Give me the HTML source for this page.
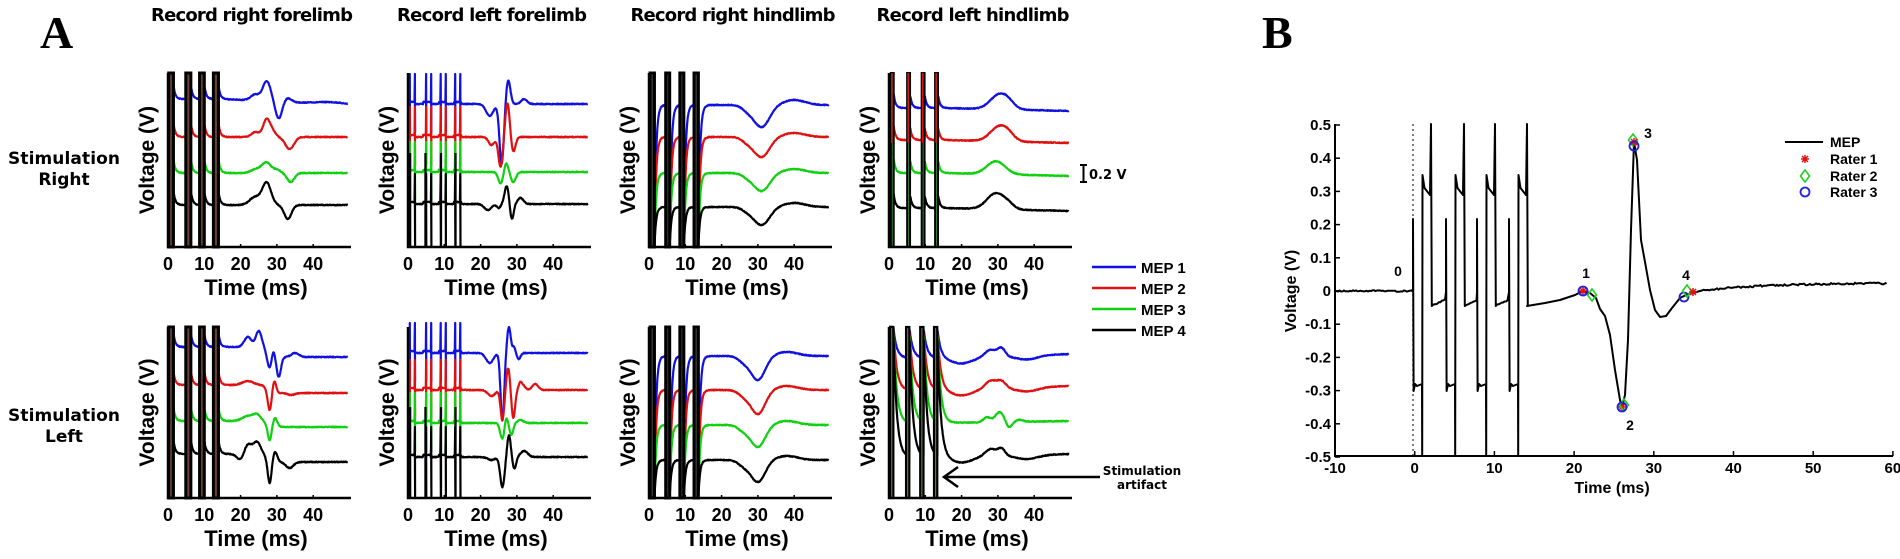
<!DOCTYPE html>
<html><head><meta charset="utf-8">
<style>
html,body{margin:0;padding:0;background:#fff;}
svg{display:block;}
text{font-family:"Liberation Sans",Arial,sans-serif;font-weight:bold;fill:#000;}
</style></head>
<body>
<svg id="s" xmlns="http://www.w3.org/2000/svg" width="1900" height="559" viewBox="0 0 1900 559">
<text x="40" y="48" style="font-family:'Liberation Serif',serif;font-size:46px">A</text>
<text x="1262" y="48" style="font-family:'Liberation Serif',serif;font-size:46px">B</text>
<text x="252" y="21" text-anchor="middle" font-size="18" textLength="202" style="font-family:'DejaVu Sans',sans-serif">Record right forelimb</text>
<text x="492" y="21" text-anchor="middle" font-size="18" textLength="190" style="font-family:'DejaVu Sans',sans-serif">Record left forelimb</text>
<text x="733" y="21" text-anchor="middle" font-size="18" textLength="205" style="font-family:'DejaVu Sans',sans-serif">Record right hindlimb</text>
<text x="973" y="21" text-anchor="middle" font-size="18" textLength="193" style="font-family:'DejaVu Sans',sans-serif">Record left hindlimb</text>
<text x="64" y="164" text-anchor="middle" font-size="17" textLength="112" style="font-family:'DejaVu Sans',sans-serif">Stimulation</text>
<text x="64" y="185" text-anchor="middle" font-size="17" style="font-family:'DejaVu Sans',sans-serif">Right</text>
<text x="64" y="421" text-anchor="middle" font-size="17" textLength="112" style="font-family:'DejaVu Sans',sans-serif">Stimulation</text>
<text x="64" y="442" text-anchor="middle" font-size="17" style="font-family:'DejaVu Sans',sans-serif">Left</text>
<path d="M1080 165 H1087 M1083.5 165 V182 M1080 182 H1087" stroke="#000" stroke-width="2" fill="none"/>
<text x="1089" y="179" font-size="13" style="font-family:'DejaVu Sans',sans-serif">0.2 V</text>
<g stroke-width="2.5">
<line x1="1092" y1="267" x2="1136" y2="267" stroke="#1010e0"/>
<line x1="1092" y1="288" x2="1136" y2="288" stroke="#e01010"/>
<line x1="1092" y1="309" x2="1136" y2="309" stroke="#10d010"/>
<line x1="1092" y1="330" x2="1136" y2="330" stroke="#000"/>
</g>
<text x="1141" y="273" font-size="15">MEP 1</text>
<text x="1141" y="294" font-size="15">MEP 2</text>
<text x="1141" y="315" font-size="15">MEP 3</text>
<text x="1141" y="336" font-size="15">MEP 4</text>
<path d="M1100 477 H944 M958 467 L944 477 L958 487" stroke="#000" stroke-width="2.5" fill="none"/>
<text x="1142" y="475" text-anchor="middle" font-size="12" style="font-family:'DejaVu Sans',sans-serif">Stimulation</text>
<text x="1142" y="489" text-anchor="middle" font-size="12" style="font-family:'DejaVu Sans',sans-serif">artifact</text>
<g id="plots"></g>
<g id="pb"></g>
</svg>
<script>
(function(){
var NS="http://www.w3.org/2000/svg";
var g=document.getElementById('plots'), gb=document.getElementById('pb');
function el(p,tag,at,txt){var e=document.createElementNS(NS,tag);for(var k in at)e.setAttribute(k,at[k]);if(txt!==undefined)e.textContent=txt;p.appendChild(e);return e;}
var seed=7;function rnd(){seed=(seed*16807)%2147483647;return seed/2147483647-0.5;}
var S=3.63, cols=[168,408,649,889], rows=[{top:73,bot:247},{top:327,bot:498}];
var colors=['#1010e0','#e01010','#10d010','#000'];
function gs(t,f){var y=0;for(var i=0;i<f.length;i++){var d=(t-f[i][0])/f[i][2];y+=f[i][1]*Math.exp(-d*d/2);}return y;}
function sig(x){return 1/(1+Math.exp(-x));}
var P=[
{c:0,r:0,type:'bars',bases:[99,137,173,205],drift:[6,0,0,0],
 f:[[[24,-6,1.2],[27.2,-20,1.1],[30.5,17,0.9],[33,-4,1],[45,-2,4]],
    [[24,-5,1],[27.2,-18,1],[29,-4,0.8],[33.5,12,1.2]],
    [[24.5,-4,1.5],[27.2,-10,1.2],[30,-3,1],[33.8,9,1]],
    [[24,-8,1.5],[27.2,-22,1.2],[33,14,1]]]},
{c:1,r:0,type:'spikes',bases:[104,137,172,204],drift:[0,0,0,0],
 f:[[[22.5,12,1],[25.8,60,0.6],[27.6,-24,0.6],[32,-5,0.8]],
    [[23,8,0.8],[25.5,30,0.6],[27.4,-34,0.6],[29,15,0.6]],
    [[25.6,12,0.7],[27,-10,0.6],[29,10,0.7]],
    [[22,6,1],[25,4,0.5],[27.2,-18,0.6],[28.6,16,0.5],[31,-6,0.8]]]},
{c:2,r:0,type:'rec',bases:[105,137,173,207],drift:[0,0,0,0],
 f:[[[31,22,2.2],[27,4,1.5],[40,-5,3]],[[31,20,2.2],[27,4,1.5],[40,-4,3]],[[31,18,2.2],[27,3,1.5],[40,-4,3]],[[31,18,2.2],[27,3,1.5],[40,-4,3]]]},
{c:3,r:0,type:'bars4',bases:[108,140,173,208],drift:[3,3,3,3],
 f:[[[30.5,-15,2.5],[33,-3,1.5]],[[30.5,-15,2.5],[33,-3,1.5]],[[29.5,-13,2.5]],[[29.5,-16,2.5],[33,-3,1.5]]]},
{c:0,r:1,type:'bars',bases:[357,393,427,462],drift:[0,0,0,0],off:[-10,-8,-6,-8],
 f:[[[22,-10,1],[25,-16,0.8],[28,12,0.6],[29,-8,0.5],[30.5,20,0.6],[35,-4,1]],
    [[22,-4,1.5],[28,18,0.5],[29.3,-12,0.5],[34,2,1]],
    [[22,-5,1.5],[24.5,-6,1],[28,14,0.5],[29.5,-9,0.6]],
    [[20,6,1],[22,-10,1],[24.5,-12,1],[28,22,0.5],[29.5,-10,0.6],[33.5,6,1]]]},
{c:1,r:1,type:'spikes',bases:[353,390,423,457],drift:[0,0,0,0],
 f:[[[22.5,10,1],[26,68,0.5],[27.8,-26,0.5],[29.2,-6,0.4],[30.5,6,0.5]],
    [[23,6,1],[26,30,0.5],[27.6,-22,0.5],[29,28,0.5],[31,-8,0.5],[32,-3,0.5],[35,-6,0.8]],
    [[26,16,0.6],[27,-8,0.4],[28.5,12,0.5],[31,-3,0.8]],
    [[23,3,1],[26,30,0.6],[27.8,-22,0.5],[29.3,12,0.5],[32,-6,1]]]},
{c:2,r:1,type:'rec',bases:[356,390,425,460],drift:[0,0,0,0],
 f:[[[30,24,2],[26,5,1.5],[38,-4,3]],[[30,24,2],[26,5,1.5],[38,-4,3]],[[30,22,2],[26,5,1.5],[38,-4,3]],[[30,22,2],[26,5,1.5],[38,-4,3]]]},
{c:3,r:1,type:'decay',bases:[358,390,423,457],drift:[-4,-4,-2,-3],
 f:[[[20,6,3],[28,-7,1.5],[31,-8,1],[38,4,3]],[[20,6,3],[28,-8,1.5],[31,-7,1.2],[38,4,3]],[[27,-5,1],[30.5,-10,1.2],[33,6,0.8],[36,-2,1]],[[20,6,3],[28,-7,1.5],[31,-7,1],[38,4,3]]]}
];
var pulses={bars:[[0.2,1.5],[4.9,6.3],[8.7,10],[12.5,13.9]],rec:[[0.3,1.5],[4.6,5.7],[8.5,9.6],[12.4,13.6]],
 bars4:[[0.5,1.3],[5,5.8],[9,9.8],[12.7,13.5]],decay:[[0.3,1.2],[4.7,5.6],[8.6,9.5],[12.4,13.3]]};
P.forEach(function(p){
 var x0=cols[p.c], top=rows[p.r].top, bot=rows[p.r].bot;
 var X=function(t){return x0+t*S;};
 var pl=pulses[p.type]||[];
 for(var k=0;k<4;k++){
  var base=p.bases[k], pts=[];
  for(var t=0;t<=49.6;t+=0.1){
   var y=base+gs(t,p.f[k])+(t>15?p.drift[k]*(t-15)/35:0)+rnd()*0.8;
   if(p.off) y+=p.off[k]*(1-sig((t-27)/0.4));
   var pe=null;for(var i=0;i<pl.length;i++)if(t>=pl[i][1])pe=pl[i][1];
   if(p.type=='bars'||p.type=='bars4'){ if(pe!==null)y-=14*Math.exp(-(t-pe)/0.5); }
   else if(p.type=='rec'){ if(pe===null)y=bot; else y+=(bot-base)*Math.exp(-(t-pe)/0.45); }
   else if(p.type=='decay'){ if(pe===null)y=top; else y-=(base-top)*Math.exp(-(t-pe)/0.9); }
   else if(p.type=='spikes'){
     var st=[0.5,1.9,5.0,6.4,9.0,10.4,13.0,14.4];
     for(var j=0;j<st.length;j++){ if(Math.abs(t-st[j])<0.05){pts.push([X(t),base-30]);pts.push([X(t+0.05),k==3?bot:base+28]);} }
     if(t<15) y+=(t%4.2<2?-2:0);
   }
   y=Math.max(top,Math.min(bot,y));
   pts.push([X(t),y]);
  }
  el(g,'path',{d:'M'+pts.map(function(q){return q[0].toFixed(1)+' '+q[1].toFixed(1);}).join('L'),fill:'none',stroke:colors[k],'stroke-width':2.2,'stroke-linejoin':'round'});
 }
 if(p.type=='bars'||p.type=='rec'){
  pl.forEach(function(q){el(g,'rect',{x:X(q[0]),y:top,width:(q[1]-q[0])*S,height:bot-top,fill:p.type=='bars'?'#6a4232':'#3a3a3a',stroke:'#000','stroke-width':3});});
 } else if(p.type=='bars4'){
  pl.forEach(function(q){el(g,'rect',{x:X(q[0]),y:top,width:(q[1]-q[0])*S,height:bot-top,fill:'#3a8a3a',stroke:'#000','stroke-width':2});
    el(g,'line',{x1:X(q[0])+1,y1:top,x2:X(q[0])+1,y2:top+70,stroke:'#e01010','stroke-width':1.5});});
 } else if(p.type=='decay'){
  pl.forEach(function(q){el(g,'rect',{x:X(q[0]),y:top,width:(q[1]-q[0])*S,height:bot-top,fill:'#6a8a4a',stroke:'#000','stroke-width':2.2});});
 } else if(p.type=='spikes'){
  [0.6,4.8,9.1,13.1].forEach(function(t){el(g,'line',{x1:X(t),y1:top+80,x2:X(t),y2:bot,stroke:'#000','stroke-width':2.2});});
 }
 el(g,'path',{d:'M'+x0+' '+top+'V'+bot+'H'+(x0+183),fill:'none',stroke:'#000','stroke-width':2.5});
 for(var tk=0;tk<=40;tk+=10){
  el(g,'line',{x1:X(tk),y1:bot,x2:X(tk),y2:bot-3,stroke:'#000','stroke-width':1.5});
  el(g,'text',{x:X(tk),y:bot+23,'text-anchor':'middle','font-size':18},String(tk));
 }
 el(g,'text',{x:x0+88,y:bot+48,'text-anchor':'middle','font-size':22},'Time (ms)');
 var cy=(top+bot)/2;
 el(g,'text',{x:x0-14,y:cy,'text-anchor':'middle','font-size':21,transform:'rotate(-90 '+(x0-14)+' '+cy+')'},'Voltage (V)');
});
var L=1335,R=1893,T=124,B=456;
function XB(t){return L+(t+10)*7.97;} function YB(v){return 291-332*v;}
el(gb,'line',{x1:1413,y1:T,x2:1413,y2:B,stroke:'#555','stroke-width':1.5,'stroke-dasharray':'2 3'});
var pts=[];
for(var x=L;x<1412;x+=1.5)pts.push([x,291+rnd()*1.5]);
var pa=[1413,1446,1477,1509];
pa.forEach(function(a,i){
 var b=a+9.5,c=a+18;
 pts.push([a,292],[a,219],[a+0.6,391],[a+2,384],[a+4,386],[b-0.5,384],[b-0.3,B],[b,175],[b+2,188],[c-1,195],[c,T],[c+0.8,306]);
 var nxt=(i<3?pa[i+1]:1527);
 for(var x=c+2;x<nxt;x+=1.5)pts.push([x,306-(x-c)*0.45+rnd()*1.2]);
});
var tail=[[1527,306],[1545,303],[1560,300],[1575,295],[1583,291],[1590,293],[1596,298],[1600,309],[1605,316],[1610,335],[1615,370],[1620,400],[1622,407],[1625,395],[1628,340],[1631,230],[1634,142],[1637,160],[1641,240],[1645,262],[1650,290],[1655,310],[1660,317],[1666,316],[1672,308],[1680,298],[1686,295],[1700,291]];
pts=pts.concat(tail);
for(var x=1702;x<=1887;x+=1.5)pts.push([x,291-8*(1-Math.exp(-(x-1700)/60))+rnd()*1.8]);
el(gb,'path',{d:'M'+pts.map(function(q){return q[0].toFixed(1)+' '+q[1].toFixed(1);}).join('L'),fill:'none',stroke:'#000','stroke-width':2,'stroke-linejoin':'round'});
el(gb,'path',{d:'M'+L+' '+T+'V'+B+'H'+R,fill:'none',stroke:'#000','stroke-width':2});
for(var v=-5;v<=5;v++){var y=YB(v/10);el(gb,'line',{x1:L,y1:y,x2:L+5,y2:y,stroke:'#000','stroke-width':1.5});
 var s=v==0?'0':(v<0?'-':'')+'0.'+Math.abs(v);
 el(gb,'text',{x:L-4,y:y+5,'text-anchor':'end','font-size':15},s);}
for(var t=-10;t<=60;t+=10){var x=XB(t);el(gb,'line',{x1:x,y1:B,x2:x,y2:B-5,stroke:'#000','stroke-width':1.5});
 el(gb,'text',{x:x,y:B+17,'text-anchor':'middle','font-size':15},String(t));}
el(gb,'text',{x:1612,y:493,'text-anchor':'middle','font-size':16},'Time (ms)');
el(gb,'text',{x:1296,y:291,'text-anchor':'middle','font-size':16,transform:'rotate(-90 1296 291)'},'Voltage (V)');
function star(x,y){el(gb,'path',{d:'M'+(x-4)+' '+y+'H'+(x+4)+'M'+x+' '+(y-4)+'V'+(y+4)+'M'+(x-3)+' '+(y-3)+'L'+(x+3)+' '+(y+3)+'M'+(x-3)+' '+(y+3)+'L'+(x+3)+' '+(y-3),stroke:'#e01010','stroke-width':1.5});}
function dia(x,y){el(gb,'path',{d:'M'+x+' '+(y-6)+'L'+(x+4.5)+' '+y+'L'+x+' '+(y+6)+'L'+(x-4.5)+' '+y+'Z',fill:'none',stroke:'#20d020','stroke-width':1.6});}
function circ(x,y){el(gb,'circle',{cx:x,cy:y,r:4.5,fill:'none',stroke:'#2020e0','stroke-width':1.8});}
star(1583,291);dia(1592,295);circ(1583,291);
star(1622,407);dia(1624,405);circ(1622,407);
dia(1633,140);star(1634,142);circ(1634,146);
circ(1684,297);dia(1687,291);star(1693,292);
[['0',1398,276],['1',1586,278],['2',1630,430],['3',1648,138],['4',1686,280]].forEach(function(a){el(gb,'text',{x:a[1],y:a[2],'text-anchor':'middle','font-size':14},a[0]);});
el(gb,'line',{x1:1785,y1:142,x2:1823,y2:142,stroke:'#000','stroke-width':2});
el(gb,'text',{x:1830,y:147,'font-size':14},'MEP');
star(1805,159);el(gb,'text',{x:1830,y:164,'font-size':14},'Rater 1');
dia(1805,176);el(gb,'text',{x:1830,y:181,'font-size':14},'Rater 2');
circ(1805,192);el(gb,'text',{x:1830,y:197,'font-size':14},'Rater 3');
})();
</script>
</body></html>
